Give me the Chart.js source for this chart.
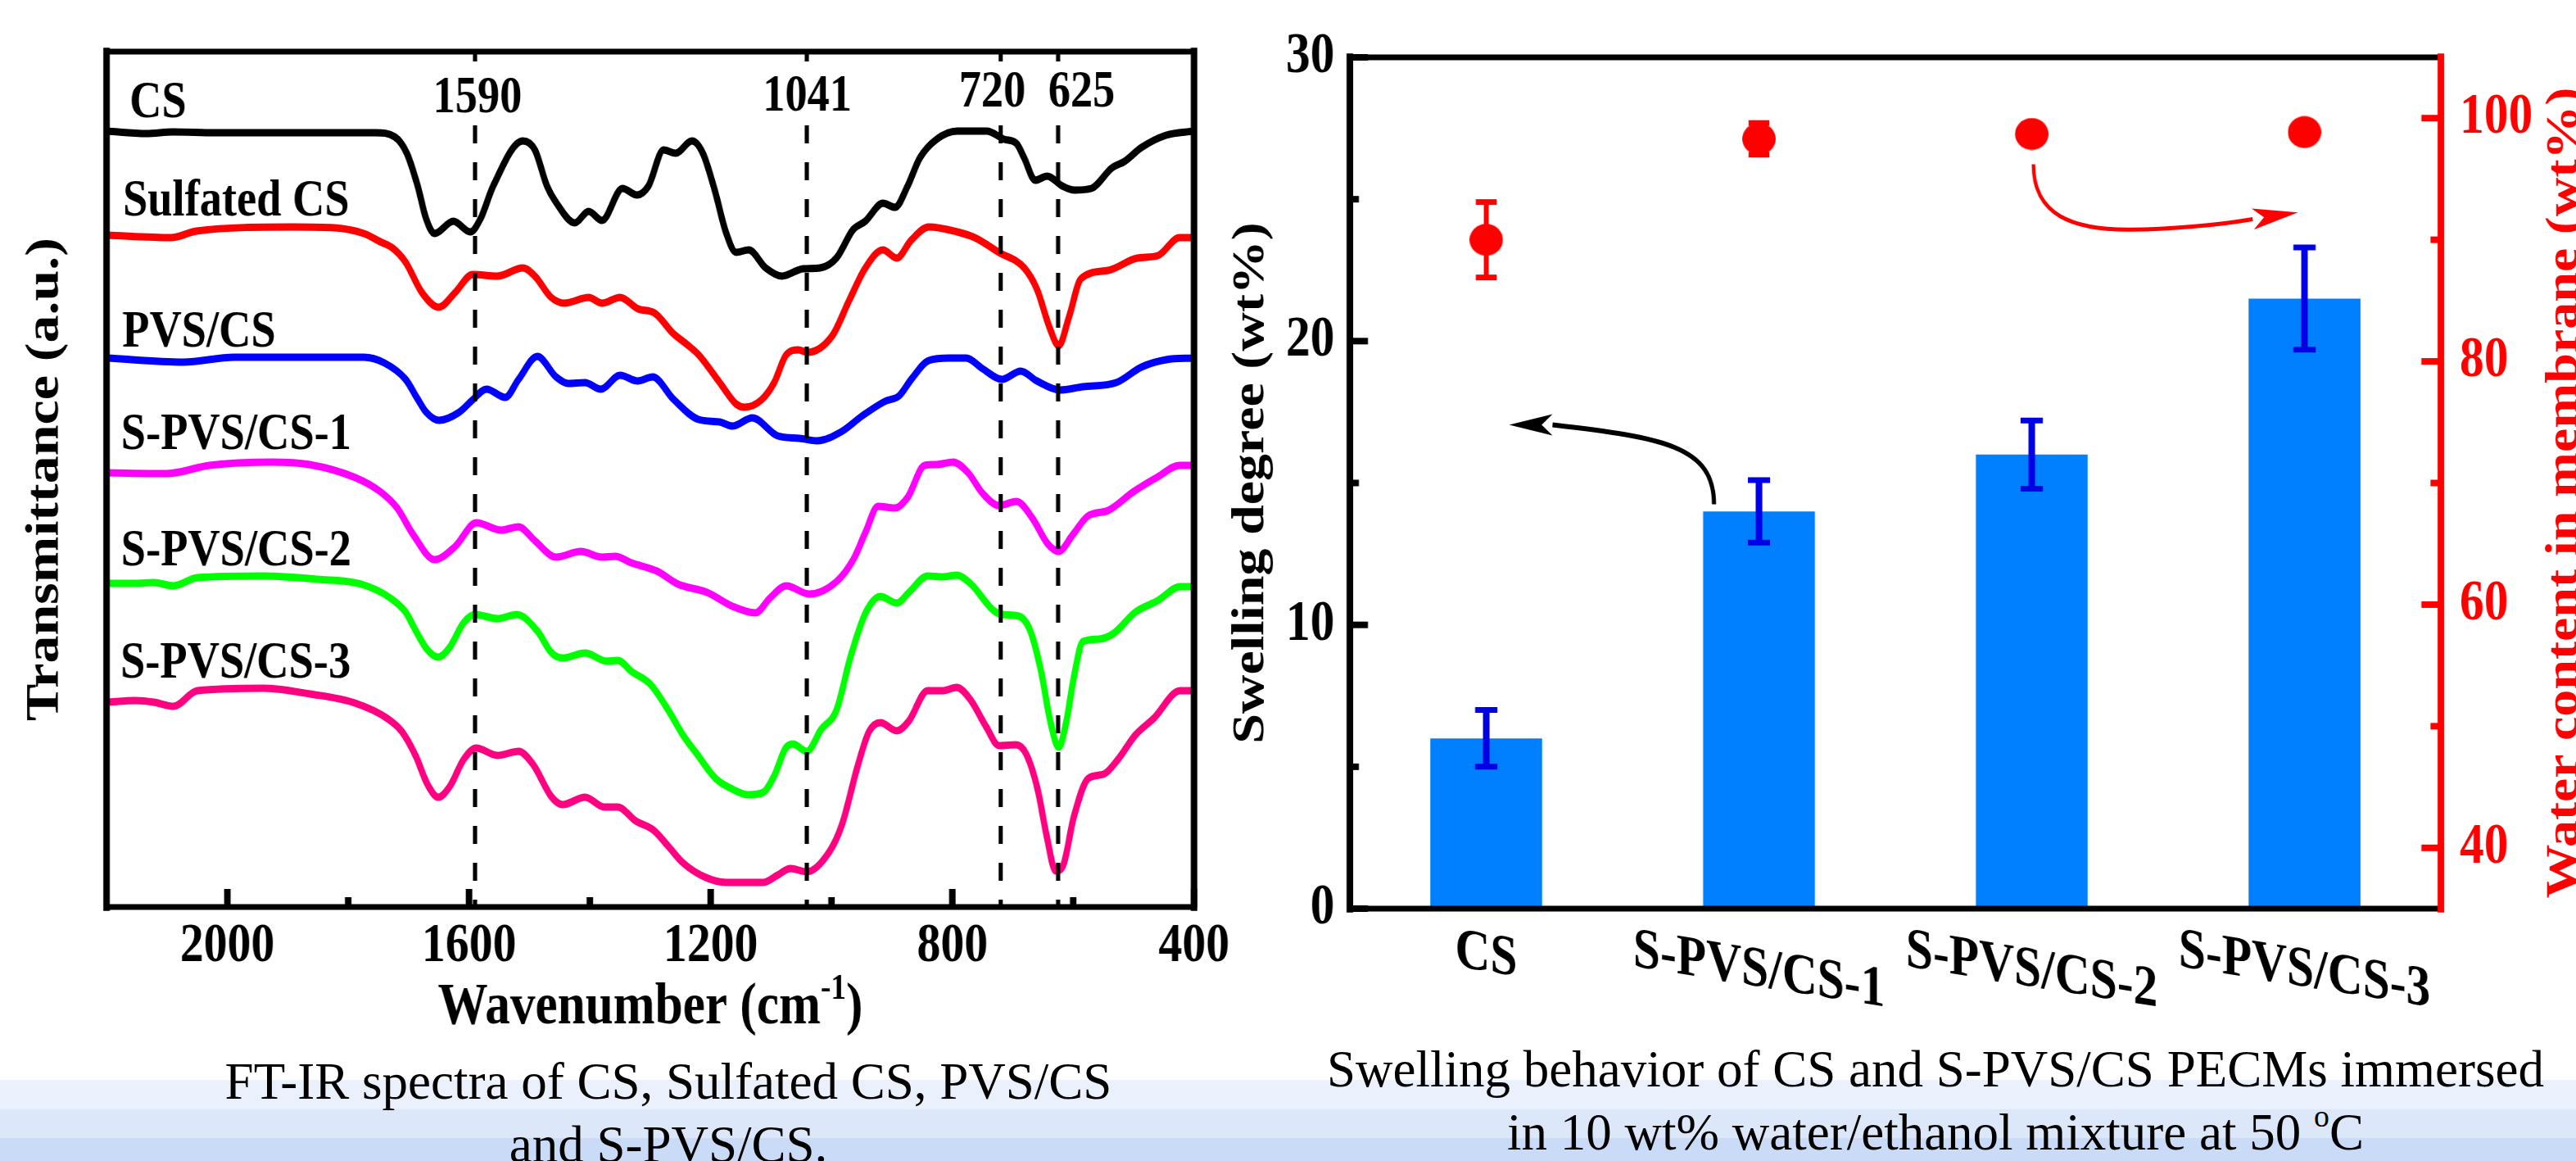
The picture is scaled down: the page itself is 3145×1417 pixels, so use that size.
<!DOCTYPE html>
<html>
<head>
<meta charset="utf-8">
<title>FT-IR spectra and swelling behavior</title>
<script src="https://cdn.jsdelivr.net/npm/chart.js@4.4.0/dist/chart.umd.min.js"></script>
<style>
    html, body {
        margin: 0;
        padding: 0;
        width: 3145px;
        height: 1417px;
        overflow: hidden;
        background: #ffffff;
        position: relative;
    }
    .band { position: absolute; left: 0; width: 3145px; }
    /* the original figure is horizontally condensed */
    .squash { position: absolute; top: 0; transform-origin: 0 0; transform: scaleX(0.85); }
    .caption {
        position: absolute;
        font-family: "Liberation Serif", "Times New Roman", serif;
        font-size: 63px;
        line-height: 63px;
        white-space: nowrap;
        color: #000;
        transform: translateX(-50%);
    }
    .caption sup { font-size: 0.6em; line-height: 0; vertical-align: 0.75em; }
</style>
</head>
<body>
<div class="band" style="top:1318px;height:36px;background:#ebf1fc"></div>
<div class="band" style="top:1354px;height:35px;background:#dce7fa"></div>
<div class="band" style="top:1389px;height:28px;background:#c9dbf7"></div>

<div class="squash" style="left:0;width:1800px;height:1280px">
    <canvas id="ftirChart" width="1800" height="1280"></canvas>
</div>
<div class="squash" style="left:1470px;width:2000px;height:1280px">
    <canvas id="swellChart" width="2000" height="1280"></canvas>
</div>

<div class="caption" style="left:816px;top:1289px">FT-IR spectra of CS, Sulfated CS, PVS/CS</div>
<div class="caption" style="left:816px;top:1366px">and S-PVS/CS.</div>
<div class="caption" style="left:2363px;top:1274px">Swelling behavior of CS and S-PVS/CS PECMs immersed</div>
<div class="caption" style="left:2363px;top:1351px">in 10 wt% water/ethanol mixture at 50 <sup>o</sup>C</div>

<script>
// ---- FT-IR data: [wavenumber (cm-1), transmittance (a.u., offset per curve)] ----
const csCurve = [[2200,94.9],[2134,94.6],[2090,94.8],[2020,94.7],[1754,94.7],[1723,94.2],[1703,92.2],[1685,88.2],[1671,84.2],[1657,82.4],[1626,83.9],[1598,82.6],[1581,84.2],[1560,88.2],[1511,93.7],[1491,92.6],[1471,88.2],[1456,86.2],[1425,83.7],[1402,85.1],[1380,84.0],[1346,87.9],[1322,87.1],[1303,88.2],[1278,92.6],[1258,92.2],[1231,93.7],[1213,92.2],[1193,87.6],[1175,82.6],[1158,80.1],[1137,80.4],[1109,78.2],[1082,77.2],[1047,78.1],[1019,78.2],[992,79.4],[964,82.9],[944,83.9],[915,86.1],[895,85.6],[874,88.2],[854,91.6],[826,93.9],[792,94.9],[743,94.9],[714,93.9],[694,93.4],[681,91.6],[663,88.9],[643,89.4],[618,88.2],[598,87.7],[570,87.9],[536,90.4],[515,91.2],[487,92.9],[446,94.4],[400,94.9]];
const sulfatedCurve = [[2200,82.2],[2093,81.9],[2051,82.7],[1892,83.2],[1823,83.1],[1774,82.4],[1747,81.4],[1726,80.6],[1705,78.9],[1678,75.2],[1650,73.4],[1623,75.2],[1594,77.4],[1553,77.2],[1511,78.2],[1491,77.2],[1464,74.6],[1442,73.9],[1402,74.6],[1380,73.9],[1350,74.6],[1320,73.2],[1293,72.7],[1262,70.2],[1240,68.9],[1220,67.6],[1185,64.2],[1158,61.6],[1144,61.2],[1116,62.1],[1095,64.2],[1075,67.6],[1055,68.2],[1040,67.9],[999,69.9],[971,74.2],[944,78.2],[915,80.4],[892,79.4],[868,81.6],[839,83.2],[792,82.6],[763,81.9],[723,80.1],[681,78.2],[660,75.6],[639,70.9],[624,68.7],[607,72.2],[587,76.9],[542,77.9],[494,79.4],[460,79.7],[424,81.9],[400,81.9]];
const pvsCurve = [[2200,67.2],[2073,66.7],[1989,67.3],[1774,67.3],[1740,66.6],[1705,64.6],[1685,62.2],[1671,60.6],[1650,59.6],[1616,60.6],[1594,62.1],[1571,63.4],[1540,62.4],[1518,64.6],[1487,67.4],[1456,64.9],[1436,64.1],[1408,64.2],[1382,63.4],[1350,65.1],[1321,64.4],[1296,64.9],[1262,62.2],[1220,59.7],[1185,59.4],[1164,58.9],[1131,59.9],[1089,57.7],[1053,57.4],[1024,57.1],[984,58.2],[950,60.1],[912,61.9],[888,62.6],[868,64.6],[839,66.9],[805,67.2],[777,67.2],[750,65.9],[718,64.6],[687,65.6],[660,64.4],[622,63.3],[584,63.7],[529,64.2],[487,66.1],[446,67.0],[400,67.2]];
const spvs1Curve = [[2200,53.2],[2100,53.1],[2030,54.1],[1926,54.5],[1864,54.2],[1788,52.6],[1747,50.9],[1719,48.9],[1692,45.6],[1657,42.6],[1623,44.2],[1588,47.1],[1547,46.2],[1518,46.6],[1491,44.9],[1456,42.9],[1415,43.6],[1380,42.9],[1358,43.0],[1331,42.2],[1289,41.2],[1254,39.6],[1206,38.6],[1164,36.9],[1126,36.1],[1102,37.9],[1075,39.4],[1037,38.4],[992,39.9],[964,42.6],[944,45.9],[923,49.1],[895,48.9],[874,50.2],[846,54.1],[826,54.2],[799,54.5],[774,53.2],[750,50.7],[723,49.2],[694,49.7],[667,47.6],[643,44.6],[624,43.6],[601,45.6],[576,47.9],[542,48.6],[500,50.9],[460,52.7],[424,54.1],[400,54.1]];
const spvs2Curve = [[2200,39.7],[2152,39.7],[2122,39.8],[2089,39.4],[2050,40.4],[1941,40.6],[1850,40.2],[1778,39.6],[1730,37.9],[1705,36.2],[1688,33.9],[1669,31.6],[1651,30.7],[1632,31.9],[1609,34.9],[1590,35.9],[1553,35.4],[1521,35.9],[1487,33.9],[1463,31.2],[1445,30.6],[1408,31.2],[1372,30.2],[1354,30.3],[1330,28.9],[1300,27.4],[1270,24.2],[1246,21.2],[1223,18.9],[1192,15.9],[1167,14.7],[1137,13.9],[1113,14.2],[1095,16.2],[1076,19.6],[1064,20.1],[1041,19.2],[1017,21.9],[992,24.2],[968,30.9],[943,36.2],[919,38.1],[892,37.3],[872,38.6],[841,40.6],[816,40.5],[793,40.7],[769,39.6],[732,36.4],[717,35.9],[690,35.7],[671,33.9],[653,28.9],[638,22.9],[624,19.7],[612,22.6],[599,28.2],[584,32.6],[557,32.9],[533,33.6],[497,36.2],[460,37.6],[423,39.3],[400,39.3]];
const spvs3Curve = [[2200,25.2],[2152,25.4],[2122,25.2],[2089,24.7],[2050,26.6],[1941,26.9],[1863,26.2],[1789,25.1],[1735,23.2],[1711,21.6],[1688,18.6],[1669,15.2],[1651,13.6],[1632,14.9],[1609,18.2],[1588,19.6],[1553,18.7],[1518,19.2],[1494,17.6],[1463,13.6],[1445,12.7],[1408,13.6],[1376,12.4],[1354,12.4],[1324,10.7],[1295,9.6],[1270,7.6],[1246,5.6],[1211,3.9],[1174,3.2],[1113,3.2],[1089,4.1],[1068,4.9],[1041,4.5],[1004,6.9],[983,10.2],[956,17.6],[938,21.6],[919,22.7],[892,21.7],[872,22.9],[841,26.6],[816,26.6],[793,27.0],[771,25.6],[744,22.2],[723,19.9],[695,20.0],[678,18.9],[659,14.6],[644,8.9],[629,4.6],[617,5.2],[599,11.2],[575,15.9],[550,16.4],[526,18.2],[497,21.2],[467,23.2],[423,26.6],[400,26.6]];

const seriesNames = ["CS", "Sulfated CS", "PVS/CS", "S-PVS/CS-1", "S-PVS/CS-2", "S-PVS/CS-3"];
const wnMajorTicks = [2000, 1600, 1200, 800, 400];
const wnMinorTicks = [1800, 1400, 1000, 600];
const peakWavenumbers = [1590, 1041, 720, 625];

// ---- swelling data ----
const categories = ["CS", "S-PVS/CS-1", "S-PVS/CS-2", "S-PVS/CS-3"];
const swellingDegree = [6.0, 14.0, 16.0, 21.5];
const swellingError = [1.0, 1.1, 1.2, 1.8];
const waterContent = [90.0, 98.3, 98.7, 98.85];
const waterError = [3.1, 1.3, 0.8, 0.5];
const swellTicks = [0, 10, 20, 30];
const swellMinorTicks = [5, 15, 25];
const waterTicks = [40, 60, 80, 100];
const waterMinorTicks = [50, 70, 90];

const SQUASH = 0.85;
const SERIF = '"Liberation Serif", "Times New Roman", serif';
Chart.defaults.font.family = SERIF;
Chart.defaults.color = "#000";

function line(ctx, x1, y1, x2, y2) {
    ctx.beginPath();
    ctx.moveTo(x1, y1);
    ctx.lineTo(x2, y2);
    ctx.stroke();
}

function arrowHead(ctx, from, tip, half) {
    const dx = tip.x - from.x, dy = tip.y - from.y;
    const len = Math.hypot(dx, dy);
    const nx = -dy / len, ny = dx / len;
    ctx.beginPath();
    ctx.moveTo(tip.x, tip.y);
    ctx.lineTo(from.x + nx * half, from.y + ny * half);
    ctx.lineTo(from.x + dx * 0.25, from.y + dy * 0.25);
    ctx.lineTo(from.x - nx * half, from.y - ny * half);
    ctx.closePath();
    ctx.fill();
}

/**
 * Linke Grafik: FT-IR Spektren
 */
function createFtirChart() {
    const yMin = 0.2, yMax = 104.6;
    const curves = [csCurve, sulfatedCurve, pvsCurve, spvs1Curve, spvs2Curve, spvs3Curve];
    const colors = ["#000000", "#ff0000", "#0000ff", "#ff00ff", "#00ff00", "#ff0080"];

    // where the names / peak numbers sit (wavenumber, transmittance)
    const nameAnchors = [[2162, 96.6], [2173, 84.6], [2174, 68.6], [2176, 56.1], [2176, 41.9], [2177, 28.2]];
    const peakLabelAnchors = [[1586, 97.2], [1040, 97.4], [734, 97.9], [586, 97.9]];

    const datasets = [];
    peakWavenumbers.forEach(wn => {
        datasets.push({
            data: [{x: wn, y: yMax}, {x: wn, y: yMin}],
            borderColor: "#000",
            borderWidth: 6,
            borderDash: [22, 23],
            pointRadius: 0,
            order: 0
        });
    });
    curves.forEach((curve, i) => {
        datasets.push({
            label: seriesNames[i],
            data: curve.map(p => ({x: p[0], y: p[1]})),
            borderColor: colors[i],
            borderWidth: 9,
            pointRadius: 0,
            tension: 0.4,
            cubicInterpolationMode: "monotone",
            order: 1
        });
    });

    const decor = {
        id: "ftirDecor",
        afterDatasetsDraw(chart) {
            const {ctx, scales: {x, y}} = chart;
            ctx.save();
            ctx.font = "bold 64px " + SERIF;
            ctx.textBaseline = "alphabetic";
            peakWavenumbers.forEach((wn, i) => {
                const text = String(wn);
                const cx = x.getPixelForValue(peakLabelAnchors[i][0]);
                const w = ctx.measureText(text).width;
                const yTop = y.getPixelForValue(103.4), yBot = y.getPixelForValue(95.7);
                ctx.fillStyle = "#fff";
                ctx.fillRect(cx - w / 2 - 4, yTop, w + 8, yBot - yTop);
                ctx.fillStyle = "#000";
                ctx.textAlign = "center";
                ctx.fillText(text, cx, y.getPixelForValue(peakLabelAnchors[i][1]));
            });
            ctx.textAlign = "left";
            seriesNames.forEach((name, i) => {
                ctx.fillText(name, x.getPixelForValue(nameAnchors[i][0]), y.getPixelForValue(nameAnchors[i][1]));
            });
            ctx.restore();
        },
        afterDraw(chart) {
            const {ctx, chartArea: {left, right, top, bottom}, scales: {x}} = chart;
            ctx.save();
            ctx.strokeStyle = "#000";
            ctx.lineCap = "square";
            ctx.lineWidth = 7;
            line(ctx, left, top, right, top);
            line(ctx, left, bottom, right, bottom);
            ctx.lineWidth = 8 / SQUASH;
            line(ctx, left, top, left, bottom);
            line(ctx, right, top, right, bottom);
            ctx.lineCap = "butt";
            wnMajorTicks.forEach(v => line(ctx, x.getPixelForValue(v), bottom, x.getPixelForValue(v), bottom - 22));
            wnMinorTicks.forEach(v => line(ctx, x.getPixelForValue(v), bottom, x.getPixelForValue(v), bottom - 12));

            // x title with superscript
            const big = "bold 72px " + SERIF, small = "bold 44px " + SERIF;
            const parts = [["Wavenumber (cm", big, 0], ["-1", small, -30], [")", big, 0]];
            let total = 0;
            parts.forEach(p => { ctx.font = p[1]; total += ctx.measureText(p[0]).width; });
            let cx = (left + right) / 2 - total / 2;
            ctx.fillStyle = "#000";
            ctx.textBaseline = "alphabetic";
            ctx.textAlign = "left";
            parts.forEach(p => {
                ctx.font = p[1];
                ctx.fillText(p[0], cx, 1249 + p[2]);
                cx += ctx.measureText(p[0]).width;
            });
            ctx.restore();
        }
    };

    new Chart(document.getElementById("ftirChart"), {
        type: "line",
        data: {datasets: datasets},
        options: {
            responsive: false,
            animation: false,
            devicePixelRatio: 1,
            layout: {padding: {top: 63, right: 85, left: 0, bottom: 0}},
            plugins: {legend: {display: false}, tooltip: {enabled: false}},
            scales: {
                x: {
                    type: "linear",
                    reverse: true,
                    min: 400,
                    max: 2200,
                    afterBuildTicks: s => { s.ticks = wnMajorTicks.map(v => ({value: v})); },
                    afterFit: s => { s.height = 1280 - 1107; },
                    grid: {display: false, drawTicks: false},
                    border: {display: false},
                    ticks: {
                        font: {size: 68, weight: "bold"}, color: "#000", padding: 8,
                        maxRotation: 0, autoSkip: false,
                        callback: v => String(v)
                    }
                },
                y: {
                    min: yMin,
                    max: yMax,
                    afterFit: s => { s.width = 153; },
                    grid: {display: false, drawTicks: false},
                    border: {display: false},
                    ticks: {display: false},
                    title: {display: true, text: "Transmittance (a.u.)", color: "#000",
                            font: {size: 68, weight: "bold"}, padding: {top: 25, bottom: 0}}
                }
            }
        },
        plugins: [decor]
    });
}

/**
 * Rechte Grafik: Quellgrad (Balken) und Wassergehalt (Punkte)
 */
function createSwellingChart() {
    const dot = document.createElement("canvas");
    dot.width = 48;
    dot.height = 40;
    const dctx = dot.getContext("2d");
    dctx.fillStyle = "#ff0000";
    dctx.beginPath();
    dctx.ellipse(24, 20, 24, 19.5, 0, 0, 2 * Math.PI);
    dctx.fill();

    // annotation arrows, in (category index, axis value)
    const blackArrow = {from: [0.835, 14.25], c1: [0.835, 16.3], c2: [0.65, 16.6], to: [0.243, 17.05], tip: [0.084, 17.05]};
    const redArrow = {from: [2.006, 96.2], c1: [2.006, 92.0], c2: [2.15, 90.8], mid: [2.363, 90.84],
                      c3: [2.5, 90.85], c4: [2.68, 91.2], to: [2.81, 91.7], tip: [2.976, 92.25]};

    const decor = {
        id: "swellDecor",
        afterDatasetsDraw(chart) {
            const {ctx, scales: {x, y, y2}} = chart;
            ctx.save();
            ctx.lineCap = "butt";
            // error bars
            swellingDegree.forEach((v, i) => {
                const cx = x.getPixelForValue(i);
                const hi = y.getPixelForValue(v + swellingError[i]), lo = y.getPixelForValue(v - swellingError[i]);
                ctx.strokeStyle = "#0000e6";
                ctx.lineWidth = 8 / SQUASH;
                line(ctx, cx, hi, cx, lo);
                ctx.lineWidth = 7;
                line(ctx, cx - 16, hi, cx + 16, hi);
                line(ctx, cx - 16, lo, cx + 16, lo);
            });
            waterContent.forEach((v, i) => {
                const cx = x.getPixelForValue(i);
                const hi = y2.getPixelForValue(v + waterError[i]), lo = y2.getPixelForValue(v - waterError[i]);
                ctx.strokeStyle = "#ff0000";
                ctx.lineWidth = 6 / SQUASH;
                line(ctx, cx, hi, cx, lo);
                ctx.lineWidth = 7;
                line(ctx, cx - 15, hi, cx + 15, hi);
                line(ctx, cx - 15, lo, cx + 15, lo);
            });

            const p = (pt, s) => ({x: x.getPixelForValue(pt[0]), y: s.getPixelForValue(pt[1])});
            // black arrow (bars -> left axis)
            let a = blackArrow;
            ctx.strokeStyle = "#000";
            ctx.fillStyle = "#000";
            ctx.lineWidth = 6;
            ctx.beginPath();
            ctx.moveTo(p(a.from, y).x, p(a.from, y).y);
            ctx.bezierCurveTo(p(a.c1, y).x, p(a.c1, y).y, p(a.c2, y).x, p(a.c2, y).y, p(a.to, y).x, p(a.to, y).y);
            ctx.stroke();
            arrowHead(ctx, p(a.to, y), p(a.tip, y), 13);

            // red arrow (points -> right axis)
            a = redArrow;
            ctx.strokeStyle = "#ff0000";
            ctx.fillStyle = "#ff0000";
            ctx.lineWidth = 5;
            ctx.beginPath();
            ctx.moveTo(p(a.from, y2).x, p(a.from, y2).y);
            ctx.bezierCurveTo(p(a.c1, y2).x, p(a.c1, y2).y, p(a.c2, y2).x, p(a.c2, y2).y, p(a.mid, y2).x, p(a.mid, y2).y);
            ctx.bezierCurveTo(p(a.c3, y2).x, p(a.c3, y2).y, p(a.c4, y2).x, p(a.c4, y2).y, p(a.to, y2).x, p(a.to, y2).y);
            ctx.stroke();
            arrowHead(ctx, p(a.to, y2), p(a.tip, y2), 13);
            ctx.restore();
        },
        afterDraw(chart) {
            const {ctx, chartArea: {left, right, top, bottom}, scales: {x, y, y2}} = chart;
            ctx.save();
            ctx.lineCap = "square";
            ctx.strokeStyle = "#000";
            ctx.lineWidth = 7;
            line(ctx, left, top, right, top);
            line(ctx, left, bottom, right, bottom);
            ctx.lineWidth = 8 / SQUASH;
            line(ctx, left, top, left, bottom);
            ctx.lineCap = "butt";
            ctx.lineWidth = 8;
            swellTicks.forEach(v => line(ctx, left, y.getPixelForValue(v), left + 26, y.getPixelForValue(v)));
            swellMinorTicks.forEach(v => line(ctx, left, y.getPixelForValue(v), left + 13, y.getPixelForValue(v)));

            ctx.strokeStyle = "#ff0000";
            waterTicks.forEach(v => line(ctx, right, y2.getPixelForValue(v), right - 28, y2.getPixelForValue(v)));
            waterMinorTicks.forEach(v => line(ctx, right, y2.getPixelForValue(v), right - 15, y2.getPixelForValue(v)));
            ctx.lineCap = "square";
            ctx.lineWidth = 8 / SQUASH;
            line(ctx, right, top, right, bottom);

            // category labels, sheared downwards like the original
            const shear = 0.137;
            ctx.font = "bold 70px " + SERIF;
            ctx.fillStyle = "#000";
            ctx.textAlign = "left";
            ctx.textBaseline = "alphabetic";
            categories.forEach((c, i) => {
                const w = ctx.measureText(c).width;
                ctx.save();
                ctx.translate(x.getPixelForValue(i) - w / 2, bottom + 70);
                ctx.transform(1, shear, 0, 1, 0, 0);
                ctx.fillText(c, 0, 0);
                ctx.restore();
            });

            // right axis title, cut by the figure edge
            ctx.save();
            ctx.font = "bold 66px " + SERIF;
            ctx.fillStyle = "#ff0000";
            ctx.textAlign = "center";
            ctx.textBaseline = "alphabetic";
            ctx.translate(right + 195, (top + bottom) / 2 + 12);
            ctx.rotate(-Math.PI / 2);
            ctx.fillText("Water content in membrane (wt%)", 0, 0);
            ctx.restore();
            ctx.restore();
        }
    };

    new Chart(document.getElementById("swellChart"), {
        type: "bar",
        data: {
            labels: categories,
            datasets: [
                {
                    type: "line",
                    label: "Water content",
                    data: waterContent,
                    yAxisID: "y2",
                    showLine: false,
                    pointStyle: dot,
                    pointRadius: 20,
                    order: 1
                },
                {
                    type: "bar",
                    label: "Swelling degree",
                    data: swellingDegree,
                    yAxisID: "y",
                    backgroundColor: "#0080ff",
                    barPercentage: 0.41,
                    categoryPercentage: 1,
                    order: 2
                }
            ]
        },
        options: {
            responsive: false,
            animation: false,
            devicePixelRatio: 1,
            layout: {padding: {top: 70, right: 0, left: 0, bottom: 0}},
            plugins: {legend: {display: false}, tooltip: {enabled: false}},
            scales: {
                x: {
                    type: "category",
                    offset: true,
                    afterFit: s => { s.height = 1280 - 1109; },
                    grid: {display: false, drawTicks: false},
                    border: {display: false},
                    ticks: {display: false}
                },
                y: {
                    position: "left",
                    min: 0,
                    max: 30,
                    afterBuildTicks: s => { s.ticks = swellTicks.map(v => ({value: v})); },
                    afterFit: s => { s.width = 209.4; },
                    grid: {display: false, drawTicks: false},
                    border: {display: false},
                    ticks: {font: {size: 70, weight: "bold"}, color: "#000", padding: 22},
                    title: {display: true, text: "Swelling degree (wt%)", color: "#000",
                            font: {size: 66, weight: "bold"}, padding: {top: 28, bottom: 0}}
                },
                y2: {
                    position: "right",
                    min: 35,
                    max: 105,
                    afterBuildTicks: s => { s.ticks = waterTicks.map(v => ({value: v})); },
                    afterFit: s => { s.width = 2000 - 1776.5; },
                    grid: {display: false, drawTicks: false},
                    border: {display: false},
                    ticks: {font: {size: 70, weight: "bold"}, color: "#ff0000", padding: 27}
                }
            }
        },
        plugins: [decor]
    });
}

createFtirChart();
createSwellingChart();
</script>
</body>
</html>
